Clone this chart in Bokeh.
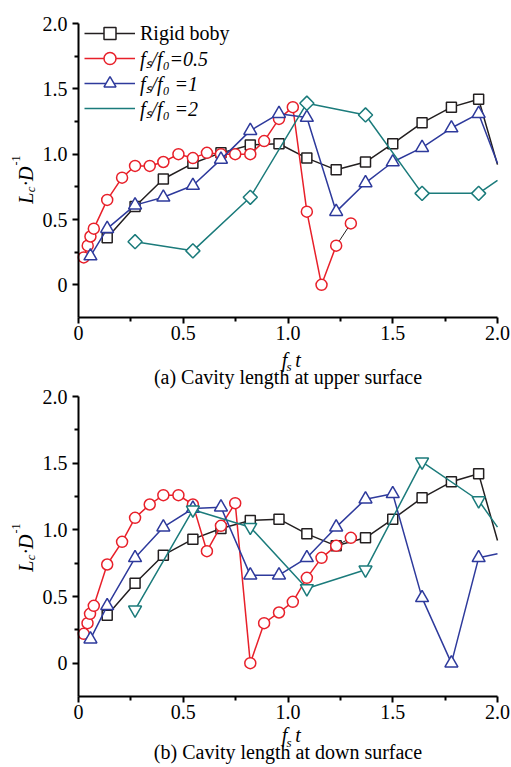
import math
from bokeh.plotting import figure
from bokeh.models import Range1d, FixedTicker, Legend, LegendItem, Label, LinearAxis
from bokeh.embed import file_html
from bokeh.resources import INLINE

# ---------------- data ----------------
x_ticks = [0.0, 0.5, 1.0, 1.5, 2.0]
x_tick_labels = ["0", "0.5", "1.0", "1.5", "2.0"]
x_minor = [0.25, 0.75, 1.25, 1.75]
y_ticks = [0.0, 0.5, 1.0, 1.5, 2.0]
y_tick_labels = ["0", "0.5", "1.0", "1.5", "2.0"]
y_minor = [0.25, 0.75, 1.25, 1.75]

series_labels = ["Rigid boby", "f\u209b/f\u2080=0.5", "f\u209b/f\u2080 =1", "f\u209b/f\u2080 =2"]
captions = ["(a) Cavity length at upper surface", "(b) Cavity length at down surface"]

# rigid body (same in both panels); the last value is where the line meets the x = 2.0 edge
rigid_x = [0.137, 0.27, 0.405, 0.546, 0.68, 0.82, 0.957, 1.09, 1.23, 1.37, 1.50, 1.64, 1.78, 1.91, 2.0]
rigid_y = [0.36, 0.60, 0.81, 0.93, 1.01, 1.07, 1.08, 0.97, 0.88, 0.94, 1.08, 1.24, 1.36, 1.42, 0.92]

# (a) upper surface
up_r05_x = [0.025, 0.044, 0.057, 0.073, 0.137, 0.208, 0.27, 0.34, 0.405, 0.477, 0.546,
            0.613, 0.68, 0.748, 0.82, 0.886, 0.957, 1.023, 1.09, 1.16, 1.23, 1.30]
up_r05_y = [0.21, 0.30, 0.37, 0.43, 0.65, 0.82, 0.91, 0.91, 0.94, 1.00, 0.97,
            1.01, 1.00, 1.00, 1.00, 1.10, 1.27, 1.36, 0.56, 0.00, 0.30, 0.47]
up_r1_x = [0.057, 0.137, 0.27, 0.405, 0.546, 0.68, 0.82, 0.957, 1.09, 1.23, 1.37, 1.50, 1.64, 1.78, 1.91, 2.0]
up_r1_y = [0.22, 0.43, 0.61, 0.67, 0.76, 0.96, 1.18, 1.31, 1.28, 0.56, 0.78, 0.94, 1.05, 1.20, 1.31, 0.93]
up_r2_x = [0.27, 0.546, 0.82, 1.09, 1.37, 1.64, 1.91, 2.0]
up_r2_y = [0.33, 0.26, 0.67, 1.39, 1.30, 0.70, 0.70, 0.80]

# (b) down surface
dn_r05_x = [0.025, 0.043, 0.055, 0.073, 0.137, 0.208, 0.27, 0.34, 0.405, 0.477, 0.546,
            0.613, 0.68, 0.748, 0.82, 0.886, 0.957, 1.023, 1.09, 1.16, 1.23, 1.30]
dn_r05_y = [0.22, 0.30, 0.37, 0.43, 0.74, 0.91, 1.09, 1.19, 1.26, 1.26, 1.19,
            0.84, 1.03, 1.20, 0.00, 0.30, 0.38, 0.46, 0.64, 0.79, 0.88, 0.94]
dn_r1_x = [0.057, 0.137, 0.27, 0.405, 0.546, 0.68, 0.82, 0.957, 1.09, 1.23, 1.37, 1.50, 1.64, 1.78, 1.91, 2.0]
dn_r1_y = [0.18, 0.43, 0.79, 1.02, 1.16, 1.17, 0.66, 0.66, 0.79, 1.02, 1.23, 1.27, 0.49, 0.00, 0.79, 0.82]
dn_r2_x = [0.27, 0.546, 0.82, 1.09, 1.37, 1.64, 1.91, 2.0]
dn_r2_y = [0.40, 1.15, 1.02, 0.56, 0.70, 1.51, 1.22, 1.02]

X_MIN, X_MAX = 0.0, 2.0
Y_MIN, Y_MAX = -0.25, 2.0

# ---------------- layout / style ----------------
BLACK = "#231f20"
RED = "#e8202a"
BLUE = "#2e3a9c"
TEAL = "#1b7b7b"
FONT = "Liberation Serif"
W, H = 511, 765
AX_LEFT_PX, AX_RIGHT_PX = 78.0, 497.0          # canvas x of x=0 and x=2.0
PANEL_PX = {"a": (23.0, 317.0), "b": (396.0, 696.0)}   # canvas y of y=2.0 and y=-0.25
MID = 0.3375   # distance baseline -> text middle, as a fraction of font size

XS = (AX_RIGHT_PX - AX_LEFT_PX) / (X_MAX - X_MIN)


def yscale(panel):
    top, bot = PANEL_PX[panel]
    return (bot - top) / (Y_MAX - Y_MIN)


def y_range_for(panel):
    top, bot = PANEL_PX[panel]
    ys = yscale(panel)
    return Range1d(Y_MIN - (H - bot) / ys, Y_MAX + top / ys)


def px_to_x(px):
    return X_MIN + (px - AX_LEFT_PX) / XS


def py_to_y(py, panel):
    top, _ = PANEL_PX[panel]
    return Y_MAX - (py - top) / yscale(panel)


p = figure(width=W, height=H,
           x_range=Range1d(X_MIN - AX_LEFT_PX / XS, X_MAX + (W - AX_RIGHT_PX) / XS),
           y_range=y_range_for("a"),
           output_backend="svg", toolbar_location=None,
           min_border_left=0, min_border_right=0, min_border_top=0, min_border_bottom=0)
p.extra_y_ranges = {"b": y_range_for("b")}
p.grid.visible = False
p.outline_line_color = None
p.background_fill_color = "white"
p.border_fill_color = "white"

# axes of panel (b), living on the extra y range
p.add_layout(LinearAxis(y_range_name="b"), "below")
p.add_layout(LinearAxis(y_range_name="b"), "left")

p.xaxis.fixed_location = Y_MIN
p.yaxis.fixed_location = X_MIN
p.xaxis.bounds = (X_MIN, X_MAX)
p.yaxis.bounds = (Y_MIN, Y_MAX)
p.xaxis.ticker = FixedTicker(ticks=x_ticks, minor_ticks=x_minor)
p.yaxis.ticker = FixedTicker(ticks=y_ticks, minor_ticks=y_minor)
p.xaxis.major_label_overrides = dict(zip(x_ticks, x_tick_labels))
p.yaxis.major_label_overrides = dict(zip(y_ticks, y_tick_labels))
p.axis.axis_label = None
p.axis.axis_line_width = 2
p.axis.axis_line_color = "black"
p.axis.major_tick_line_width = 2
p.axis.minor_tick_line_width = 2
p.axis.major_tick_line_color = "black"
p.axis.minor_tick_line_color = "black"
p.axis.major_tick_in = 0
p.axis.major_tick_out = 6
p.axis.minor_tick_in = 0
p.axis.minor_tick_out = 4
p.axis.major_label_text_font = FONT
p.axis.major_label_text_font_size = "20px"
p.axis.major_label_text_color = "black"
p.xaxis.major_label_standoff = 2
p.yaxis.major_label_standoff = 5


def draw_series(x, y, color, marker, size, panel, angle=0.0, last_black=False):
    rn = "default" if panel == "a" else "b"
    if last_black:
        lr = p.line(x[:-1], y[:-1], line_color=color, line_width=1.5, y_range_name=rn)
        p.line(x[-2:], y[-2:], line_color=BLACK, line_width=1, y_range_name=rn)
    else:
        lr = p.line(x, y, line_color=color, line_width=1.5, y_range_name=rn)
    mx = [a for a in x if a < X_MAX]
    my = [b for a, b in zip(x, y) if a < X_MAX]
    sr = p.scatter(mx, my, marker=marker, size=size, angle=angle, line_color=color,
                   line_width=1.5, fill_color="white", y_range_name=rn)
    return lr, sr


def add_text(px, py_base, panel, text, size, style="normal", rotated=False, align="left"):
    """py_base / px (rotated) give the wanted baseline; the label is anchored at its middle."""
    rn = "default" if panel == "a" else "b"
    off = MID * size
    if rotated:
        x, y, ang = px_to_x(px - off), py_to_y(py_base, panel), math.pi / 2
    else:
        x, y, ang = px_to_x(px), py_to_y(py_base - off, panel), 0.0
    p.add_layout(Label(x=x, y=y, y_range_name=rn, text=text,
                       text_font=FONT, text_font_size=f"{size}px", text_font_style=style,
                       angle=ang, text_align=align, text_baseline="middle",
                       text_color="black"))


def add_axis_titles(panel, base_f, base_s, base_cap, yl_start, caption):
    # x-axis title  f_s t
    add_text(284.0, base_f, panel, "f", 20, "italic", align="center")
    add_text(288.5, base_s, panel, "s", 13, "italic", align="center")
    add_text(297.5, base_f, panel, "t", 20, "italic", align="center")
    # caption
    add_text(287.5, base_cap, panel, caption, 20, align="center")
    # y-axis title  L_c . D^-1 (rotated, read bottom to top); px = baseline column
    add_text(32.0, yl_start, panel, "L", 20, "italic", rotated=True)
    add_text(34.5, yl_start - 11.6, panel, "c", 13, "italic", rotated=True)
    add_text(32.0, yl_start - 17.8, panel, "\u00b7D", 20, "italic", rotated=True)
    add_text(20.0, yl_start - 38.3, panel, "-1", 12, rotated=True)


# ---------------- panel (a) ----------------
l_rig, s_rig = draw_series(rigid_x, rigid_y, BLACK, "square", 10, "a")
l_05, s_05 = draw_series(up_r05_x, up_r05_y, RED, "circle", 11, "a", last_black=True)
l_1, s_1 = draw_series(up_r1_x, up_r1_y, BLUE, "triangle", 13, "a")
l_2, s_2 = draw_series(up_r2_x, up_r2_y, TEAL, "square", 10, "a", angle=math.pi / 4)
# legend-only diamond glyph (no data) so that the key shows a diamond
s_2_key = p.scatter([], [], marker="diamond", size=15, line_color=TEAL, line_width=1.5,
                    fill_color="white")
add_axis_titles("a", 366.0, 370.0, 383.3, 203.3, captions[0])

leg_common = dict(glyph_width=51, glyph_height=30, label_height=30, label_standoff=5,
                  spacing=0, padding=0, margin=0, border_line_color=None,
                  background_fill_alpha=0, label_text_font=FONT, label_text_font_size="20px",
                  label_text_color="black")
leg_rows = [(series_labels[0], [l_rig, s_rig], "normal", 33.0),
            (series_labels[1], [l_05, s_05], "italic", 58.0),
            (series_labels[2], [l_1, s_1], "italic", 83.0),
            (series_labels[3], [l_2, s_2_key], "italic", 108.0)]
for lab, rends, style, row_center_px in leg_rows:
    p.add_layout(Legend(items=[LegendItem(label=lab, renderers=rends)],
                        location=(84, H - row_center_px - 15),
                        label_text_font_style=style, **leg_common))

# ---------------- panel (b) ----------------
draw_series(rigid_x, rigid_y, BLACK, "square", 10, "b")
draw_series(dn_r05_x, dn_r05_y, RED, "circle", 11, "b", last_black=True)
draw_series(dn_r1_x, dn_r1_y, BLUE, "triangle", 13, "b")
draw_series(dn_r2_x, dn_r2_y, TEAL, "inverted_triangle", 13, "b")
add_axis_titles("b", 741.0, 746.0, 758.0, 571.3, captions[1])

open("out.html", "w").write(file_html(p, INLINE))
